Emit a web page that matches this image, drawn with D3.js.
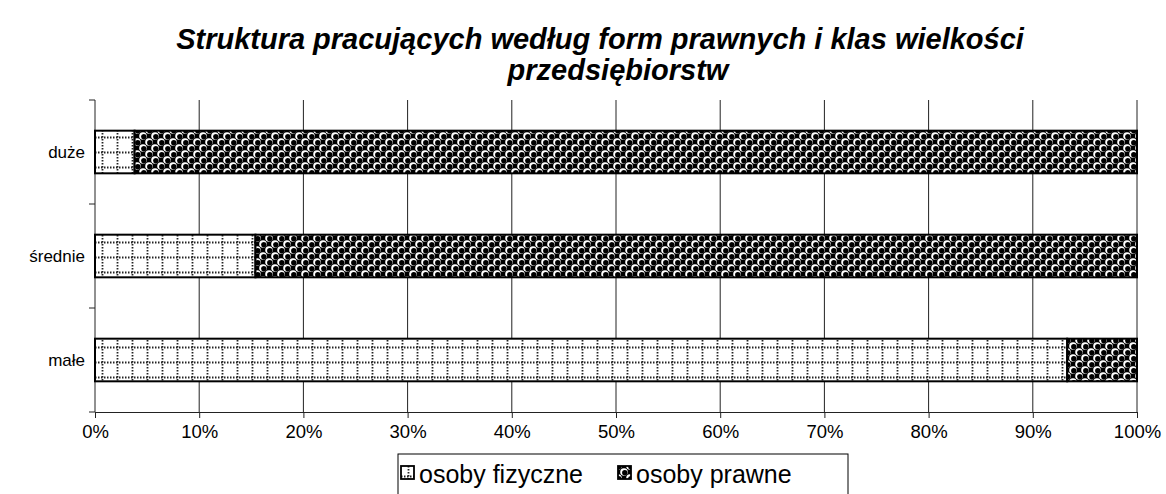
<!DOCTYPE html>
<html>
<head>
<meta charset="utf-8">
<script src="https://cdn.jsdelivr.net/npm/d3@7"></script>
<style>
body { margin: 0; background: #fff; }
svg { display: block; font-family: "Liberation Sans", Arial, sans-serif; }
</style>
</head>
<body>
<div id="chart"></div>
<script>
(function() {
"use strict";

// data (share of employed, %)
var categories = ["duże", "średnie", "małe"];
var fizyczne = [3.8, 15.4, 93.3];
var prawne = [96.2, 84.6, 6.7];
var seriesNames = ["osoby fizyczne", "osoby prawne"];
var xTicks = [0, 10, 20, 30, 40, 50, 60, 70, 80, 90, 100];
var titleLines = ["Struktura pracujących według form prawnych i klas wielkości", "przedsiębiorstw"];

var width = 1166;
var height = 494;
var margin = {top: 100, right: 29, bottom: 82, left: 95};
var plotW = width - margin.left - margin.right;
var plotH = height - margin.top - margin.bottom;

var svg = d3.select("#chart").append("svg")
    .attr("width", width)
    .attr("height", height);

// patterns
var defs = svg.append("defs");

var dotGrid = defs.append("pattern") //white with dotted grid
    .attr("id", "pFiz")
    .attr("patternUnits", "userSpaceOnUse")
    .attr("width", 15).attr("height", 15);
dotGrid.append("rect").attr("width", 15).attr("height", 15).attr("fill", "#fff");
dotGrid.append("line").attr("x1", 0).attr("x2", 15).attr("y1", 7.5).attr("y2", 7.5)
    .attr("stroke", "#222").attr("stroke-width", 1.8).attr("stroke-dasharray", "1.5,1.5");
dotGrid.append("line").attr("x1", 7.5).attr("x2", 7.5).attr("y1", 0).attr("y2", 15)
    .attr("stroke", "#222").attr("stroke-width", 1.8).attr("stroke-dasharray", "1.5,1.5");

var spheres = defs.append("pattern") //black with white balls
    .attr("id", "pPraw")
    .attr("patternUnits", "userSpaceOnUse")
    .attr("width", 12).attr("height", 12);
spheres.append("rect").attr("width", 12).attr("height", 12).attr("fill", "#000");
[[0, 0], [12, 0], [0, 12], [12, 12], [6, 6]].forEach(function(p) {
    spheres.append("circle").attr("cx", p[0]).attr("cy", p[1]).attr("r", 3.8).attr("fill", "#fff");
    spheres.append("circle").attr("cx", p[0] + 0.8).attr("cy", p[1] + 0.8).attr("r", 2.7).attr("fill", "#000");
});

var fills = ["url(#pFiz)", "url(#pPraw)"];

// title
var titleX = [600, 618];
svg.append("g").selectAll("text")
    .data(titleLines)
    .enter().append("text")
    .attr("x", function(d, i) { return titleX[i]; })
    .attr("y", function(d, i) { return 49 + i * 31; })
    .attr("text-anchor", "middle")
    .attr("font-size", 29)
    .attr("font-weight", "bold")
    .attr("font-style", "italic")
    .text(function(d) { return d; });

var g = svg.append("g")
    .attr("transform", "translate(" + margin.left + "," + margin.top + ")");

var x = d3.scaleLinear().domain([0, 100]).range([0, plotW]);
var y = d3.scaleBand().domain(categories).range([0, plotH]).paddingInner(0.59).paddingOuter(0.295);
var yBounds = d3.scaleLinear().domain([0, categories.length]).range([0, plotH]);

// vertical gridlines + ticks
var xAxis = g.append("g")
    .attr("transform", "translate(0," + plotH + ")")
    .call(d3.axisBottom(x).tickValues(xTicks).tickSize(6).tickPadding(7)
        .tickFormat(function(d) { return d + "%"; }));
xAxis.select(".domain").attr("stroke", "#222");
xAxis.selectAll(".tick line").attr("stroke", "#222");
xAxis.selectAll("text").attr("font-size", 18.5).attr("fill", "#000")
    .attr("font-family", "Liberation Sans, Arial, sans-serif");

g.append("g").selectAll("line")
    .data(xTicks.slice(1))
    .enter().append("line")
    .attr("x1", function(d) { return x(d); })
    .attr("x2", function(d) { return x(d); })
    .attr("y1", 0).attr("y2", plotH)
    .attr("stroke", "#222").attr("stroke-width", 1);

// y axis with ticks between categories
g.append("g").selectAll("line")
    .data(d3.range(categories.length + 1))
    .enter().append("line")
    .attr("x1", -6).attr("x2", 0)
    .attr("y1", function(d) { return yBounds(d); })
    .attr("y2", function(d) { return yBounds(d); })
    .attr("stroke", "#222");
g.append("line").attr("x1", 0).attr("x2", 0).attr("y1", 0).attr("y2", plotH).attr("stroke", "#222");

g.append("g").selectAll("text")
    .data(categories)
    .enter().append("text")
    .attr("x", -10)
    .attr("y", function(d) { return y(d) + y.bandwidth() / 2; })
    .attr("dy", "0.35em")
    .attr("text-anchor", "end")
    .attr("font-size", 17)
    .text(function(d) { return d; });

// stacked bars
var rows = categories.map(function(c, i) { return {cat: c, fizyczne: fizyczne[i], prawne: prawne[i]}; });
var stack = d3.stack().keys(["fizyczne", "prawne"])(rows);

g.append("g").selectAll("g")
    .data(stack)
    .enter().append("g")
    .attr("fill", function(d, i) { return fills[i]; })
    .selectAll("rect")
    .data(function(d) { return d; })
    .enter().append("rect")
    .attr("x", function(d) { return x(d[0]); })
    .attr("y", function(d) { return y(d.data.cat); })
    .attr("width", function(d) { return x(d[1]) - x(d[0]); })
    .attr("height", y.bandwidth())
    .attr("stroke", "#000")
    .attr("stroke-width", 2);

// legend
var legend = svg.append("g").attr("transform", "translate(398,454)");
legend.append("rect")
    .attr("width", 450).attr("height", 45)
    .attr("fill", "#fff").attr("stroke", "#000").attr("stroke-width", 1);
var itemX = [3, 220];
var item = legend.selectAll(".item")
    .data(seriesNames)
    .enter().append("g")
    .attr("class", "item")
    .attr("transform", function(d, i) { return "translate(" + itemX[i] + ",0)"; });
item.append("rect")
    .attr("x", 0).attr("y", 12)
    .attr("width", 13).attr("height", 13)
    .attr("fill", function(d, i) { return fills[i]; })
    .attr("stroke", "#000").attr("stroke-width", 1.8);
item.append("text")
    .attr("x", 18).attr("y", 29)
    .attr("font-size", 25)
    .text(function(d) { return d; });

})();
</script>
</body>
</html>
